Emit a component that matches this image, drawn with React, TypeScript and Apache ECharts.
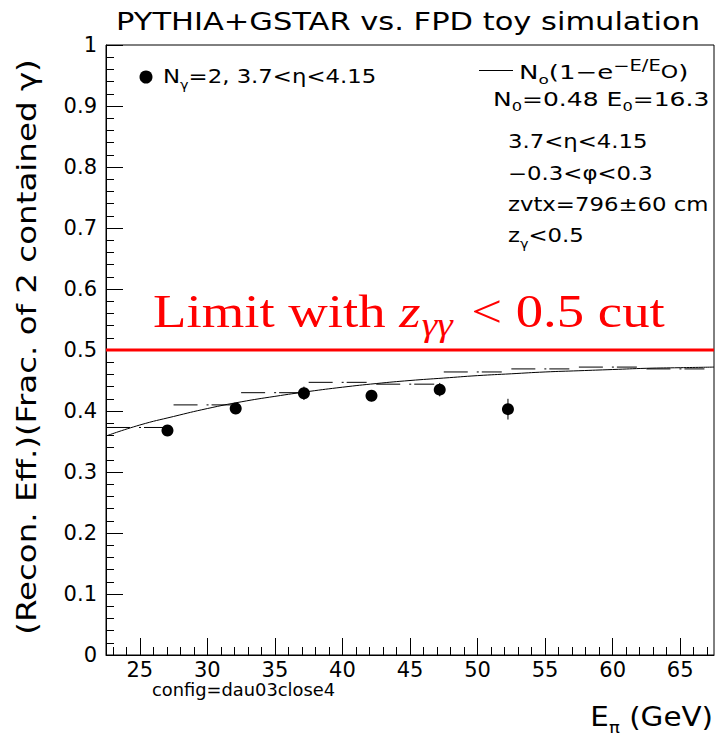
import React, { useEffect, useRef } from 'react';
import * as echarts from 'echarts';

// Data points (E_pi in GeV, reconstruction efficiency, error)
const pointE = [27.05, 32.1, 37.15, 42.15, 47.2, 52.25];
const pointEff = [0.368, 0.404, 0.429, 0.425, 0.435, 0.403];
const pointErr = [0.008, 0.009, 0.011, 0.009, 0.011, 0.017];

// Dash-dot histogram (bin centers, contents)
const binCenters = [25, 30, 35, 40, 45, 50, 55, 60, 65];
const binValues = [0.373, 0.41, 0.43, 0.447, 0.444, 0.464, 0.469, 0.472, 0.469];
const binWidth = 5;

// Fit curve
const fitE = [22.5, 25, 27.5, 30, 32.5, 35, 37.5, 40, 42.5, 45, 47.5, 50, 52.5, 55, 57.5, 60, 62.5, 65, 67.5];
const fitV = [0.359, 0.377, 0.391, 0.404, 0.415, 0.424, 0.432, 0.439, 0.445, 0.45, 0.454, 0.458, 0.461, 0.464, 0.466, 0.468, 0.47, 0.471, 0.472];

const limitValue = 0.5;
const xMin = 22.5;
const xMax = 67.5;
const xMajorTicks = [25, 30, 35, 40, 45, 50, 55, 60, 65];
const xMinorTicks: number[] = [];
for (let v = 23; v <= 67; v++) xMinorTicks.push(v);

const FONT = 'DejaVu Sans';
const SERIF = 'Liberation Serif';

function richSans(size: number, supScale = 0.63) {
  return {
    n: { fontSize: size, fontFamily: FONT, lineHeight: Math.round(size * 1.4), verticalAlign: 'middle', fill: '#000', color: '#000' },
    sub: { fontSize: Math.round(size * 0.63), fontFamily: FONT, lineHeight: Math.round(size * 0.75), verticalAlign: 'bottom', fill: '#000', color: '#000' },
    sup: { fontSize: Math.round(size * supScale), fontFamily: FONT, lineHeight: Math.round(size * supScale * 1.2), verticalAlign: 'top', fill: '#000', color: '#000' },
    o: { fontSize: Math.round(size * 0.85), fontFamily: FONT, lineHeight: Math.round(size * 1.1), verticalAlign: 'middle', fill: '#000', color: '#000' },
  };
}

function textEl(text: string, x: number, y: number, size: number, align: string, scaleX: number, supScale = 0.63) {
  return {
    type: 'text',
    x,
    y,
    scaleX,
    z: 100,
    style: {
      text,
      rich: richSans(size, supScale),
      fontSize: size,
      fontFamily: FONT,
      fill: '#000',
      align,
      textAlign: align,
      verticalAlign: 'middle',
      textVerticalAlign: 'middle',
    },
  };
}

export default function App() {
  const ref = useRef<HTMLDivElement>(null);
  useEffect(() => {
    if (!ref.current) return;
    const chart = echarts.init(ref.current, null, { renderer: 'svg' });

    const histRender = (params: any, api: any) => {
      const c = api.value(0);
      const v = api.value(1);
      const p1 = api.coord([c - binWidth / 2, v]);
      const p2 = api.coord([c + binWidth / 2, v]);
      return {
        type: 'line',
        shape: { x1: p1[0], y1: p1[1], x2: p2[0], y2: p2[1] },
        style: { stroke: '#000', lineWidth: 1, lineDash: [24, 9, 2, 3, 20, 10] },
      };
    };
    const errRender = (params: any, api: any) => {
      const e = api.value(0);
      const v = api.value(1);
      const err = api.value(2);
      const p1 = api.coord([e, v - err]);
      const p2 = api.coord([e, v + err]);
      return {
        type: 'line',
        shape: { x1: p1[0], y1: p1[1], x2: p2[0], y2: p2[1] },
        style: { stroke: '#000', lineWidth: 1 },
      };
    };

    const option: any = {
      animation: false,
      backgroundColor: '#fff',
      grid: { left: 106, right: 3, top: 45, bottom: 82, show: true, borderColor: '#000', borderWidth: 1, backgroundColor: 'transparent' },
      xAxis: [
        {
          type: 'value', min: xMin, max: xMax,
          axisLine: { show: true, onZero: false, lineStyle: { color: '#000', width: 1 } },
          axisTick: { show: true, inside: true, length: 17, customValues: xMajorTicks, lineStyle: { color: '#000' } },
          axisLabel: { customValues: xMajorTicks, color: '#000', fontSize: 21, fontFamily: FONT, margin: 4 },
          splitLine: { show: false },
        },
        {
          type: 'value', min: xMin, max: xMax, gridIndex: 0, position: 'bottom',
          axisLine: { show: false },
          axisTick: { show: true, inside: true, length: 8, customValues: xMinorTicks, lineStyle: { color: '#000' } },
          axisLabel: { show: false },
          splitLine: { show: false },
        },
      ],
      yAxis: {
        type: 'value', min: 0, max: 1, interval: 0.1,
        axisLine: { show: true, onZero: false, lineStyle: { color: '#000', width: 1 } },
        axisTick: { show: true, inside: true, length: 17, lineStyle: { color: '#000' } },
        minorTick: { show: true, splitNumber: 5, length: 8, lineStyle: { color: '#000' } },
        axisLabel: { color: '#000', fontSize: 21, fontFamily: FONT, margin: 9 },
        splitLine: { show: false },
      },
      series: [
        {
          type: 'line', name: 'fit', data: fitE.map((e, i) => [e, fitV[i]]), smooth: true,
          symbol: 'none', showSymbol: false, lineStyle: { color: '#000', width: 1 }, z: 3,
        },
        {
          type: 'custom', name: 'hist', data: binCenters.map((c, i) => [c, binValues[i]]),
          renderItem: histRender, encode: { x: 0, y: 1 }, z: 3,
        },
        {
          type: 'line', name: 'limit', data: [[xMin, limitValue], [xMax, limitValue]],
          symbol: 'none', showSymbol: false, lineStyle: { color: '#ff0000', width: 3 }, z: 4,
        },
        {
          type: 'custom', name: 'err', data: pointE.map((e, i) => [e, pointEff[i], pointErr[i]]),
          renderItem: errRender, encode: { x: 0, y: 1 }, z: 5,
        },
        {
          type: 'scatter', name: 'points', data: pointE.map((e, i) => [e, pointEff[i]]),
          symbol: 'circle', symbolSize: 12, itemStyle: { color: '#000', opacity: 1 }, z: 6,
        },
      ],
      graphic: [
        textEl('{n|PYTHIA+GSTAR vs. FPD toy simulation}', 408, 21, 25, 'center', 1.22),
        {
          type: 'text', x: 27, y: 347, rotation: Math.PI / 2, scaleX: 1.25, z: 100,
          style: {
            text: '(Recon. Eff.)(Frac. of 2 contained γ)', fontSize: 26, fontFamily: FONT, fill: '#000',
            align: 'center', textAlign: 'center', verticalAlign: 'middle', textVerticalAlign: 'middle',
          },
        },
        textEl('{n|E}{sub|π}{n| (GeV)}', 713, 717, 26, 'right', 1.13),
        textEl('{n|config=dau03close4}', 152, 690, 17, 'left', 1.05),
        { type: 'circle', shape: { cx: 146, cy: 77, r: 6.5 }, style: { fill: '#000' }, z: 100 },
        textEl('{n|N}{sub|γ}{n|=2, 3.7<η<4.15}', 163, 77, 19, 'left', 1.2),
        { type: 'line', shape: { x1: 479, y1: 70.5, x2: 513, y2: 70.5 }, style: { stroke: '#000', lineWidth: 1 }, z: 100 },
        textEl('{n|N}{sub|o}{n|(1−e}{sup|−E/E}{o|O}{n|)}', 519, 72, 20, 'left', 1.3, 0.75),
        textEl('{n|N}{sub|0}{n|=0.48 E}{sub|0}{n|=16.3}', 493, 99, 20, 'left', 1.25),
        textEl('{n|3.7<η<4.15}', 508, 142, 19, 'left', 1.2),
        textEl('{n|−0.3<φ<0.3}', 508, 174, 19, 'left', 1.2),
        textEl('{n|zvtx=796±60 cm}', 508, 205, 19, 'left', 1.2),
        textEl('{n|z}{sub|γ}{n|<0.5}', 508, 236, 19, 'left', 1.2),
        {
          type: 'text', x: 153, y: 282, scaleX: 1.19, z: 100,
          style: {
            text: '{a|Limit with }{z|z}{g|γγ}{a| < 0.5 cut}',
            fill: '#ff0000', align: 'left', textAlign: 'left', verticalAlign: 'top', textVerticalAlign: 'top',
            fontSize: 46, fontFamily: SERIF,
            rich: {
              a: { fontSize: 46, fontFamily: SERIF, lineHeight: 60, verticalAlign: 'middle', fill: '#ff0000', color: '#ff0000' },
              z: { fontSize: 46, fontFamily: SERIF, fontStyle: 'italic', lineHeight: 60, verticalAlign: 'middle', fill: '#ff0000', color: '#ff0000' },
              g: { fontSize: 33, fontFamily: SERIF, fontStyle: 'italic', lineHeight: 37, verticalAlign: 'bottom', fill: '#ff0000', color: '#ff0000', padding: [0, 4, 0, 1] },
            },
          },
        },
      ],
    };
    chart.setOption(option);
    return () => chart.dispose();
  }, []);
  return <div ref={ref} style={{ position: 'absolute', left: 0, top: 0, width: 717, height: 737, background: '#fff' }} />;
}
